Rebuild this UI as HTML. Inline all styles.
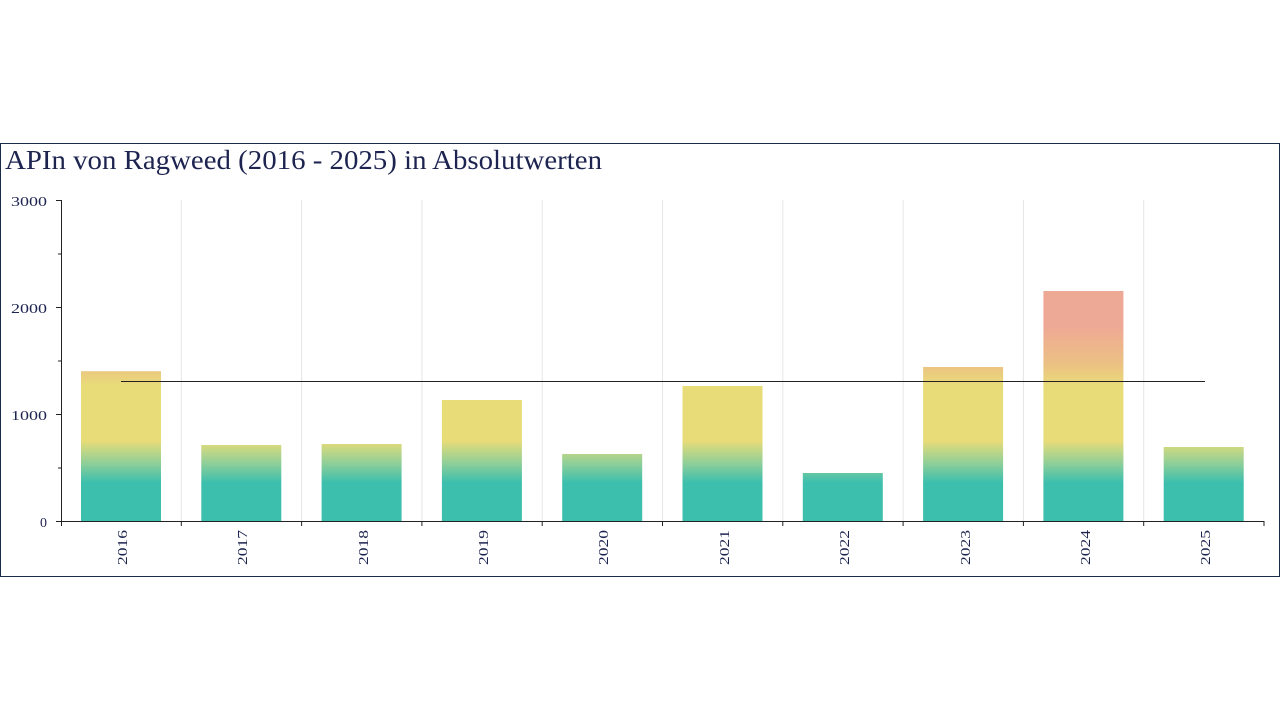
<!DOCTYPE html><html><head><style>body{margin:0;background:#fff;width:1280px;height:720px;overflow:hidden}</style></head><body>
<svg width="1280" height="720" xmlns="http://www.w3.org/2000/svg" font-family="'Liberation Serif',serif">
<defs><linearGradient id="g" gradientUnits="userSpaceOnUse" x1="0" y1="521" x2="0" y2="200">
<stop offset="0" stop-color="#3dbfad"/><stop offset="0.12" stop-color="#3dbfad"/>
<stop offset="0.18" stop-color="#8fcf98"/><stop offset="0.25" stop-color="#e8dc78"/>
<stop offset="0.42" stop-color="#e8dc78"/><stop offset="0.49" stop-color="#ecc083"/>
<stop offset="0.61" stop-color="#eea896"/><stop offset="1" stop-color="#eea896"/></linearGradient></defs>
<rect x="0.5" y="143.5" width="1279" height="433" fill="none" stroke="#1d2b4a"/>
<text x="5" y="169" font-size="27" fill="#1d2450" textLength="597" lengthAdjust="spacingAndGlyphs">APIn von Ragweed (2016 - 2025) in Absolutwerten</text>
<g stroke="#e6e6e6">
<line x1="181.3" y1="200" x2="181.3" y2="521"/><line x1="301.6" y1="200" x2="301.6" y2="521"/><line x1="421.9" y1="200" x2="421.9" y2="521"/><line x1="542.2" y1="200" x2="542.2" y2="521"/><line x1="662.5" y1="200" x2="662.5" y2="521"/><line x1="782.8" y1="200" x2="782.8" y2="521"/><line x1="903.1" y1="200" x2="903.1" y2="521"/><line x1="1023.4" y1="200" x2="1023.4" y2="521"/><line x1="1143.7" y1="200" x2="1143.7" y2="521"/></g>
<g fill="url(#g)">
<rect x="81" y="371.2" width="80" height="149.8"/><rect x="201.3" y="445" width="80" height="76"/><rect x="321.6" y="444" width="80" height="77"/><rect x="441.9" y="400" width="80" height="121"/><rect x="562.2" y="454" width="80" height="67"/><rect x="682.5" y="386" width="80" height="135"/><rect x="802.8" y="473" width="80" height="48"/><rect x="923.1" y="367" width="80" height="154"/><rect x="1043.4" y="291" width="80" height="230"/><rect x="1163.7" y="447" width="80" height="74"/></g>
<line x1="121" y1="381.5" x2="1205" y2="381.5" stroke="#222" stroke-width="1"/>
<g stroke="#222"><line x1="61.5" y1="200" x2="61.5" y2="521"/><line x1="61" y1="521.5" x2="1264" y2="521.5"/>
<line x1="56" y1="200.5" x2="61" y2="200.5"/><line x1="56" y1="307.5" x2="61" y2="307.5"/><line x1="56" y1="414.5" x2="61" y2="414.5"/><line x1="56" y1="521.5" x2="61" y2="521.5"/>
<line x1="58" y1="254" x2="61" y2="254"/><line x1="58" y1="361" x2="61" y2="361"/><line x1="58" y1="468" x2="61" y2="468"/>
<g><line x1="61.5" y1="521" x2="61.5" y2="526"/><line x1="181.3" y1="521" x2="181.3" y2="526"/><line x1="301.6" y1="521" x2="301.6" y2="526"/><line x1="421.9" y1="521" x2="421.9" y2="526"/><line x1="542.2" y1="521" x2="542.2" y2="526"/><line x1="662.5" y1="521" x2="662.5" y2="526"/><line x1="782.8" y1="521" x2="782.8" y2="526"/><line x1="903.1" y1="521" x2="903.1" y2="526"/><line x1="1023.4" y1="521" x2="1023.4" y2="526"/><line x1="1143.7" y1="521" x2="1143.7" y2="526"/><line x1="1264" y1="521" x2="1264" y2="526"/></g></g>
<g font-size="14" fill="#1d2450" text-anchor="end">
<text x="47" y="206" textLength="36" lengthAdjust="spacingAndGlyphs">3000</text><text x="47" y="313" textLength="36" lengthAdjust="spacingAndGlyphs">2000</text><text x="47" y="420" textLength="36" lengthAdjust="spacingAndGlyphs">1000</text><text x="47" y="527">0</text></g>
<g font-size="14" fill="#1d2450" text-anchor="end">
<text transform="translate(127,530) rotate(-90)" textLength="35" lengthAdjust="spacingAndGlyphs">2016</text><text transform="translate(247,530) rotate(-90)" textLength="35" lengthAdjust="spacingAndGlyphs">2017</text><text transform="translate(368,530) rotate(-90)" textLength="35" lengthAdjust="spacingAndGlyphs">2018</text><text transform="translate(488,530) rotate(-90)" textLength="35" lengthAdjust="spacingAndGlyphs">2019</text><text transform="translate(608,530) rotate(-90)" textLength="35" lengthAdjust="spacingAndGlyphs">2020</text><text transform="translate(729,530) rotate(-90)" textLength="35" lengthAdjust="spacingAndGlyphs">2021</text><text transform="translate(849,530) rotate(-90)" textLength="35" lengthAdjust="spacingAndGlyphs">2022</text><text transform="translate(970,530) rotate(-90)" textLength="35" lengthAdjust="spacingAndGlyphs">2023</text><text transform="translate(1090,530) rotate(-90)" textLength="35" lengthAdjust="spacingAndGlyphs">2024</text><text transform="translate(1210,530) rotate(-90)" textLength="35" lengthAdjust="spacingAndGlyphs">2025</text></g>
</svg></body></html>
